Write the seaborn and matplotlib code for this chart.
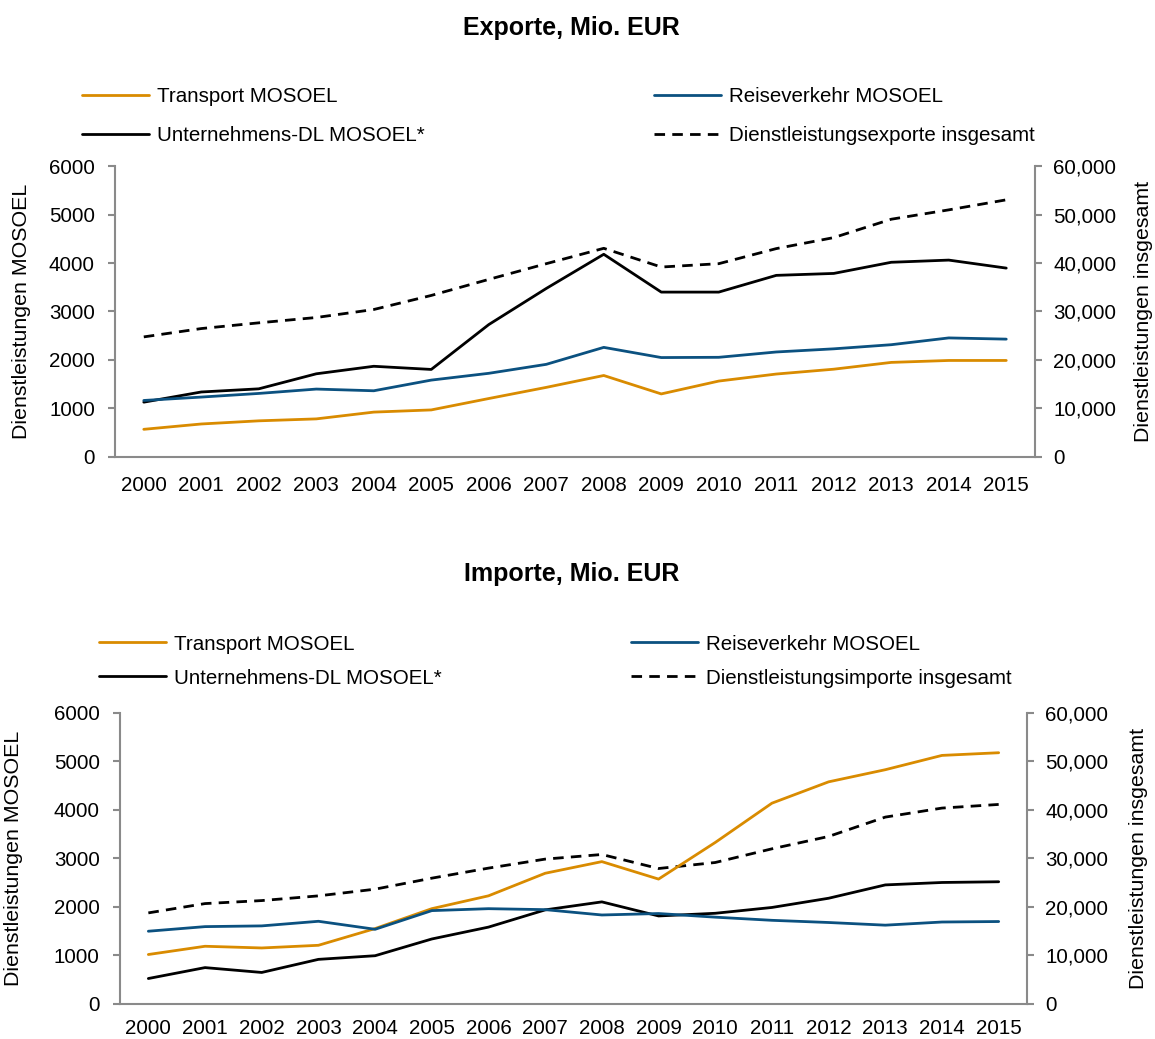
"""Dienstleistungsexporte und -importe MOSOEL, 2000-2015."""

import matplotlib

matplotlib.use("Agg")
import matplotlib.pyplot as plt
import pandas as pd
import seaborn as sns
from matplotlib.ticker import FuncFormatter

years = list(range(2000, 2016))

# Exporte, Mio. EUR
exp_transport = [570, 680, 745, 785, 925, 970, 1205, 1435, 1680, 1300, 1565, 1710, 1810, 1950, 1990, 1990]
exp_reise = [1165, 1235, 1310, 1400, 1365, 1585, 1725, 1910, 2260, 2050, 2055, 2165, 2230, 2315, 2455, 2430]
exp_untern = [1130, 1340, 1405, 1715, 1870, 1805, 2730, 3475, 4180, 3400, 3400, 3745, 3785, 4015, 4060, 3895]
exp_total = [24760, 26480, 27660, 28760, 30410, 33310, 36620, 39860, 43030, 39170, 39860, 42970, 45240, 49030, 50960, 53030]

# Importe, Mio. EUR
imp_transport = [1020, 1190, 1155, 1210, 1555, 1965, 2230, 2695, 2935, 2575, 3330, 4140, 4580, 4830, 5125, 5180]
imp_reise = [1500, 1595, 1610, 1705, 1540, 1925, 1965, 1945, 1835, 1865, 1790, 1725, 1680, 1625, 1690, 1700]
imp_untern = [525, 750, 650, 920, 995, 1340, 1585, 1940, 2105, 1815, 1870, 1990, 2180, 2455, 2505, 2520]
imp_total = [18780, 20700, 21320, 22290, 23670, 25940, 28010, 29870, 30820, 27930, 29170, 31990, 34540, 38530, 40390, 41140]

ORANGE = "#D98B00"
BLUE = "#0B5180"
GRAY = "#8A8A8A"
FS = 14.8

sns.set_theme(style="white")
plt.rcParams["font.family"] = ["Liberation Sans", "DejaVu Sans"]
plt.rcParams["text.color"] = "black"
plt.rcParams["axes.labelcolor"] = "black"


def draw_panel(fig, rect, title, title_y, transport, reise, untern, total,
               total_label, legend_anchor, colspacing, rowspacing,
               ylabel_x, ylabel2_x, xpad):
    df = pd.DataFrame(
        {
            "year": years,
            "transport": transport,
            "reise": reise,
            "untern": untern,
            "total": total,
        }
    )
    ax = fig.add_axes(rect)
    ax2 = ax.twinx()

    sns.lineplot(data=df, x="year", y="transport", ax=ax, color=ORANGE, lw=2.0,
                 label="Transport MOSOEL", legend=False)
    sns.lineplot(data=df, x="year", y="untern", ax=ax, color="black", lw=2.0,
                 label="Unternehmens-DL MOSOEL*", legend=False)
    sns.lineplot(data=df, x="year", y="reise", ax=ax, color=BLUE, lw=2.0,
                 label="Reiseverkehr MOSOEL", legend=False)
    sns.lineplot(data=df, x="year", y="total", ax=ax2, color="black", lw=2.0,
                 linestyle=(0, (3.8, 2.6)), label=total_label, legend=False)

    ax.set_zorder(ax2.get_zorder() + 1)
    ax.patch.set_visible(False)

    ax.set_xlim(1999.5, 2015.5)
    ax.set_xticks(years)
    ax.set_ylim(0, 6000)
    ax.set_yticks(range(0, 6001, 1000))
    ax2.set_ylim(0, 60000)
    ax2.set_yticks(range(0, 60001, 10000))
    ax2.yaxis.set_major_formatter(FuncFormatter(lambda v, _: f"{v:,.0f}"))

    for a in (ax, ax2):
        a.set_xlabel("")
        a.set_ylabel("")
        a.grid(False)
        a.spines["top"].set_visible(False)
        for side in ("left", "right", "bottom"):
            a.spines[side].set_color(GRAY)
            a.spines[side].set_linewidth(1.5)
    ax.spines["right"].set_visible(False)
    ax2.spines["left"].set_visible(False)
    ax2.spines["bottom"].set_visible(False)

    ax.tick_params(axis="x", length=0, pad=xpad, labelsize=FS, colors="black")
    ax.tick_params(axis="y", left=True, length=5, width=1.5, color=GRAY,
                   pad=9.5, labelsize=FS, labelcolor="black")
    ax2.tick_params(axis="y", right=True, length=5, width=1.5, color=GRAY,
                    pad=8, labelsize=FS, labelcolor="black")

    fig.text(0.4948, title_y, title, ha="center", va="center",
             fontsize=18, fontweight="bold")
    mid = rect[1] + rect[3] / 2
    fig.text(ylabel_x, mid, "Dienstleistungen MOSOEL", rotation=90,
             ha="center", va="center", fontsize=15.4)
    fig.text(ylabel2_x, mid, "Dienstleistungen insgesamt", rotation=90,
             ha="center", va="center", fontsize=15.4)

    h1, l1 = ax.get_legend_handles_labels()
    h2, l2 = ax2.get_legend_handles_labels()
    handles = [h1[0], h1[1], h1[2], h2[0]]
    labels = [l1[0], l1[1], l1[2], l2[0]]
    fig.legend(handles, labels, ncol=2, loc="upper left",
               bbox_to_anchor=legend_anchor, frameon=False, fontsize=FS,
               handlelength=3.25, handletextpad=0.4, columnspacing=colspacing,
               labelspacing=rowspacing, borderpad=0, borderaxespad=0)
    return ax


fig = plt.figure(figsize=(11.55, 10.39), dpi=100)

draw_panel(fig, [0.0996, 0.5602, 0.7965, 0.2800], "Exporte, Mio. EUR", 0.9735,
           exp_transport, exp_reise, exp_untern, exp_total,
           "Dienstleistungsexporte insgesamt", (0.071, 0.9163), 11.15, 0.97,
           0.0186, 0.990, 13.5)

draw_panel(fig, [0.1039, 0.0337, 0.7853, 0.2801], "Importe, Mio. EUR", 0.4475,
           imp_transport, imp_reise, imp_untern, imp_total,
           "Dienstleistungsimporte insgesamt", (0.086, 0.3893), 9.18, 0.73,
           0.012, 0.9855, 11.0)

fig.savefig("out.png", dpi=100)
